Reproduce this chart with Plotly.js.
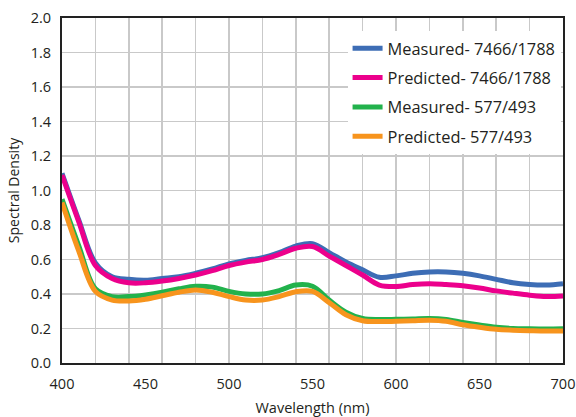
<!DOCTYPE html>
<html>
<head>
<meta charset="utf-8">
<script src="https://cdn.plot.ly/plotly-3.0.1.min.js"></script>
<style>html,body{margin:0;padding:0;background:#fff;}#chart{width:576px;height:417px;}</style>
</head>
<body>
<div id="chart"></div>
<script>
const wavelength = [400,410,420,430,440,450,460,470,480,490,500,510,520,530,540,550,560,570,580,590,600,610,620,630,640,650,660,670,680,690,700];
const measured7466 = [1.10,0.83,0.58,0.50,0.485,0.48,0.49,0.50,0.52,0.545,0.575,0.595,0.61,0.64,0.678,0.692,0.64,0.585,0.54,0.497,0.505,0.52,0.528,0.528,0.52,0.505,0.485,0.465,0.455,0.452,0.46];
const predicted7466 = [1.09,0.82,0.565,0.49,0.465,0.465,0.475,0.49,0.51,0.535,0.565,0.585,0.60,0.63,0.665,0.675,0.62,0.565,0.51,0.452,0.443,0.455,0.46,0.455,0.448,0.435,0.418,0.405,0.393,0.385,0.388];
const measured577 = [0.95,0.68,0.43,0.385,0.385,0.395,0.41,0.43,0.445,0.44,0.415,0.40,0.40,0.42,0.452,0.445,0.365,0.295,0.258,0.252,0.253,0.255,0.258,0.252,0.235,0.22,0.207,0.20,0.198,0.197,0.198];
const predicted577 = [0.93,0.65,0.415,0.365,0.36,0.37,0.39,0.41,0.423,0.41,0.385,0.365,0.365,0.385,0.413,0.415,0.35,0.28,0.245,0.24,0.242,0.245,0.248,0.242,0.222,0.207,0.195,0.19,0.187,0.185,0.186];
const seriesNames = ['Measured- 7466/1788','Predicted- 7466/1788','Measured- 577/493','Predicted- 577/493'];
const seriesColors = ['#3d6db5','#ec008c','#22b24c','#f7941d'];
const seriesValues = [measured7466, predicted7466, measured577, predicted577];

const font = 'Open Sans, Noto Sans, sans-serif';
const textColor = '#231f20';
const gridColor = '#c9c9c9';

const traces = seriesValues.map((vals, i) => ({
  x: wavelength, y: vals, type: 'scatter', mode: 'lines',
  name: seriesNames[i], legendgroup: 'g' + i,
  line: {color: seriesColors[i], width: 5, shape: 'spline', smoothing: 1}
}));
// helper trace carrying the labeled x axis (x2)
traces.push({x: [], y: [], xaxis: 'x2', yaxis: 'y', showlegend: false, hoverinfo: 'skip'});

const layout = {
  width: 576, height: 417,
  margin: {l: 62, r: 13, t: 18, b: 54},
  paper_bgcolor: '#fff', plot_bgcolor: '#fff',
  font: {family: font, size: 14, color: textColor},
  showlegend: true,
  legend: {x: 0.57, y: 0.962, xanchor: 'left', yanchor: 'top', bgcolor: '#fff',
           font: {family: font, size: 16.4, color: textColor}, tracegroupgap: 5,
           traceorder: 'grouped', itemwidth: 30},
  xaxis: {range: [400, 700], dtick: 20, tick0: 400, showgrid: true, gridcolor: gridColor, gridwidth: 1.5,
          showticklabels: false, ticks: '', zeroline: false,
          showline: true, linecolor: '#222', linewidth: 2, mirror: true},
  xaxis2: {overlaying: 'x', anchor: 'y', side: 'bottom', range: [400, 700], dtick: 50, tick0: 400,
           showgrid: false, ticks: '', zeroline: false, showline: false,
           tickfont: {family: font, size: 14.5, color: textColor}, ticklabelstandoff: 10,
           title: {text: 'Wavelength (nm)', font: {family: font, size: 14.5, color: textColor}, standoff: 14}},
  yaxis: {range: [0, 2], dtick: 0.2, tick0: 0, tickformat: '.1f', showgrid: true, gridcolor: gridColor, gridwidth: 1.5,
          ticks: '', zeroline: false, showline: true, linecolor: '#222', linewidth: 2, mirror: true,
          tickfont: {family: font, size: 14.5, color: textColor}, ticklabelstandoff: 6,
          title: {text: 'Spectral Density', font: {family: font, size: 14, color: textColor}, standoff: 8}}
};
Plotly.newPlot('chart', traces, layout, {displayModeBar: false, staticPlot: true});
</script>
</body>
</html>
